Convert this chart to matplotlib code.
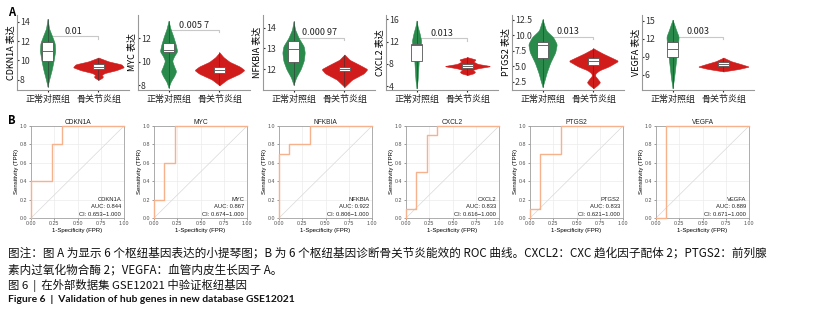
import matplotlib
matplotlib.use("Agg")
import matplotlib.pyplot as plt
import numpy as np
from matplotlib.patches import Rectangle

plt.rcParams['font.family'] = ['Noto Sans CJK SC', 'DejaVu Sans']
plt.rcParams['axes.unicode_minus'] = False

W, H = 815, 317

genes = ['CDKN1A', 'MYC', 'NFKBIA', 'CXCL2', 'PTGS2', 'VEGFA']
groups = ['正常对照组', '骨关节炎组']
p_values = ['0.01', '0.005 7', '0.000 97', '0.013', '0.013', '0.003']

# violin outlines: expression level -> half width
ctrl_y = [
    [7.3, 8.0, 9.0, 10.0, 11.0, 11.8, 12.5, 13.3, 14.3],
    [7.8, 8.3, 8.8, 9.2, 9.6, 10.1, 10.5, 10.9, 11.5, 12.2, 12.8, 13.5],
    [11.25, 11.6, 12.0, 12.4, 12.8, 13.1, 13.5, 13.9, 14.3],
    [3.6, 5.0, 6.5, 8.0, 9.5, 11.0, 12.2, 13.5, 14.8, 15.8],
    [1.7, 2.5, 4.0, 5.6, 7.3, 8.6, 9.7, 10.8, 11.8, 12.6],
    [3.8, 5.5, 7.0, 8.5, 10.0, 11.3, 12.4, 13.5, 14.5, 15.2],
]
ctrl_w = [
    [0, 0.03, 0.08, 0.12, 0.15, 0.14, 0.09, 0.03, 0],
    [0, 0.04, 0.11, 0.15, 0.11, 0.07, 0.11, 0.17, 0.14, 0.09, 0.04, 0],
    [0, 0.05, 0.14, 0.2, 0.22, 0.2, 0.1, 0.03, 0],
    [0, 0.02, 0.03, 0.04, 0.05, 0.08, 0.09, 0.06, 0.02, 0],
    [0, 0.03, 0.08, 0.15, 0.25, 0.28, 0.21, 0.07, 0.03, 0],
    [0, 0.03, 0.05, 0.07, 0.09, 0.11, 0.12, 0.07, 0.03, 0],
]
oa_y = [
    [8.0, 8.2, 8.35, 8.5, 8.7, 9.0, 9.3, 9.6, 9.9, 10.3],
    [8.0, 8.5, 9.0, 9.3, 9.6, 10.0, 10.4, 10.8],
    [11.15, 11.5, 11.8, 12.0, 12.2, 12.45, 12.7],
    [6.0, 6.3, 6.6, 6.9, 7.2, 7.6, 8.0, 8.4, 8.8, 9.2],
    [1.5, 2.0, 2.45, 3.0, 3.5, 3.9, 4.4, 5.0, 5.9, 7.1, 7.9],
    [6.6, 7.0, 7.4, 7.8, 8.3, 8.9],
]
oa_w = [
    [0, 0.07, 0.09, 0.06, 0.12, 0.35, 0.5, 0.45, 0.2, 0],
    [0, 0.15, 0.4, 0.49, 0.4, 0.2, 0.08, 0],
    [0, 0.15, 0.38, 0.45, 0.3, 0.1, 0],
    [0, 0.12, 0.15, 0.1, 0.2, 0.46, 0.2, 0.12, 0.16, 0],
    [0, 0.08, 0.13, 0.08, 0.03, 0.04, 0.12, 0.3, 0.49, 0.18, 0],
    [0, 0.3, 0.5, 0.35, 0.15, 0],
]
# boxes: q1, median, q3
ctrl_box = [(9.9, 10.95, 11.9), (10.85, 11.0, 11.6), (12.35, 12.95, 13.35),
            (8.5, 11.4, 11.6), (6.3, 8.5, 8.9), (9.0, 10.3, 11.5)]
oa_box = [(9.1, 9.3, 9.6), (9.05, 9.3, 9.6), (11.9, 12.0, 12.1),
          (7.3, 7.6, 8.0), (5.3, 5.9, 6.4), (7.5, 7.8, 8.1)]
bracket_y = [12.5, 12.7, 13.5, 12.6, 9.8, 12.4]
ylims = [(6.95, 14.7), (7.6, 14.0), (11.0, 14.6), (3.3, 16.8), (1.2, 13.3), (3.5, 16.0)]
yticks = [[8, 10, 12, 14], [8, 10, 12], [12, 13, 14], [4, 8, 12, 16],
          [2.5, 5.0, 7.5, 10.0, 12.5], [6, 9, 12, 15]]
ytick_fmt = ['{:.0f}', '{:.0f}', '{:.0f}', '{:.0f}', '{:.1f}', '{:.0f}']

# ROC curves
roc_fpr = [
    [0, 0, 0.222, 0.222, 0.333, 0.333, 1.0],
    [0, 0, 0.111, 0.111, 0.222, 0.222, 1.0],
    [0, 0, 0.111, 0.111, 0.333, 0.333, 1.0],
    [0, 0, 0.111, 0.111, 0.222, 0.222, 0.333, 0.333, 1.0],
    [0, 0, 0.111, 0.111, 0.333, 0.333, 1.0],
    [0, 0.111, 0.111, 1.0],
]
roc_tpr = [
    [0, 0.4, 0.4, 0.8, 0.8, 1.0, 1.0],
    [0, 0.2, 0.2, 0.6, 0.6, 1.0, 1.0],
    [0, 0.7, 0.7, 0.8, 0.8, 1.0, 1.0],
    [0, 0.1, 0.1, 0.5, 0.5, 0.9, 0.9, 1.0, 1.0],
    [0, 0.1, 0.1, 0.7, 0.7, 1.0, 1.0],
    [0, 0, 1.0, 1.0],
]
auc = ['0.844', '0.867', '0.922', '0.833', '0.833', '0.889']
ci = ['0.653−1.000', '0.674−1.000', '0.806−1.000', '0.616−1.000', '0.621−1.000', '0.671−1.000']

green = '#2a8a4c'
red = '#d11c1c'


def px_axes(fig, left, top, width, height):
    return fig.add_axes([left / W, 1 - (top + height) / H, width / W, height / H])


def draw_violin(ax, pos, ys, ws, color):
    yy = np.linspace(ys[0], ys[-1], 240)
    ww = np.interp(yy, ys, ws)
    k = np.ones(11) / 11
    ww = np.convolve(np.pad(ww, 5, mode='edge'), k, mode='valid')
    ax.plot([pos, pos], [ys[0], ys[-1]], color='#333333', lw=0.4, zorder=2.5)
    ax.fill_betweenx(yy, pos - ww, pos + ww, facecolor=color, edgecolor=color,
                     lw=0.4, zorder=2)


def draw_box(ax, pos, box):
    q1, med, q3 = box
    ax.add_patch(Rectangle((pos - 0.1, q1), 0.2, q3 - q1, facecolor='white',
                           edgecolor='#555555', lw=0.6, zorder=3))
    ax.plot([pos - 0.1, pos + 0.1], [med, med], color='#666666', lw=0.7, zorder=4)


fig = plt.figure(figsize=(W / 100, H / 100), dpi=100)

# ---- panel A: violins ----
vio_left = [17, 138, 263, 386, 512, 642]
for i, g in enumerate(genes):
    ax = px_axes(fig, vio_left[i], 15, 112, 75)
    draw_violin(ax, 0, ctrl_y[i], ctrl_w[i], green)
    draw_violin(ax, 1, oa_y[i], oa_w[i], red)
    draw_box(ax, 0, ctrl_box[i])
    draw_box(ax, 1, oa_box[i])
    lo, hi = ylims[i]
    by = bracket_y[i]
    tick = (hi - lo) * 0.03
    ax.plot([0, 0, 1, 1], [by - tick, by, by, by - tick], color='#c8c8c8', lw=0.8, zorder=1)
    ax.text(0.5, by + tick * 0.3, p_values[i], ha='center', va='bottom', fontsize=6.5,
            color='#222222', zorder=5)
    ax.set_xlim(-0.6, 1.6)
    ax.set_ylim(lo, hi)
    ax.set_xticks([0, 1])
    ax.set_xticklabels(groups, fontsize=6.5)
    ax.set_yticks(yticks[i])
    ax.set_yticklabels([ytick_fmt[i].format(t) for t in yticks[i]], fontsize=6.3)
    ax.tick_params(axis='y', direction='in', length=1.5, pad=-2, colors='#333333')
    for lbl in ax.get_yticklabels():
        lbl.set_ha('left')
    ax.tick_params(axis='x', length=1.5, pad=2, colors='#222222')
    for s in ['top', 'right']:
        ax.spines[s].set_visible(False)
    for s in ['left', 'bottom']:
        ax.spines[s].set_color('#999999')
        ax.spines[s].set_linewidth(0.8)
    ax.set_ylabel(g + ' 表达', fontsize=6.5)
    ax.yaxis.set_label_coords(-0.02, 0.5)

fig.text(8 / W, 1 - 12 / H, 'A', fontsize=8, fontweight='bold', va='center', ha='left')
fig.text(8 / W, 1 - 120 / H, 'B', fontsize=8, fontweight='bold', va='center', ha='left')

# ---- panel B: ROC curves ----
roc_left = [31, 154, 279, 406, 530, 656]
roc_font = 'Liberation Sans'
for i, g in enumerate(genes):
    ax = px_axes(fig, roc_left[i], 126, 93, 92)
    ax.plot([0, 1], [0, 1], color='#d9d9d9', lw=0.5, zorder=1)
    ax.plot(roc_fpr[i], roc_tpr[i], color='#f5b28c', lw=1.0, clip_on=False, zorder=3)
    ax.set_xlim(0, 1)
    ax.set_ylim(0, 1)
    ax.set_xticks([0, 0.25, 0.5, 0.75, 1.0])
    ax.set_xticklabels(['0.00', '0.25', '0.50', '0.75', '1.00'], fontsize=3.8, family=roc_font)
    ax.set_yticks([0, 0.2, 0.4, 0.6, 0.8, 1.0])
    ax.set_yticklabels(['0.0', '0.2', '0.4', '0.6', '0.8', '1.0'], fontsize=3.8, family=roc_font)
    ax.tick_params(length=1.5, width=0.4, pad=1, colors='#4d4d4d')
    ax.grid(True, color='#ebebeb', lw=0.5)
    ax.set_axisbelow(True)
    for s in ax.spines.values():
        s.set_color('#a0a0a0')
        s.set_linewidth(0.6)
    ax.set_title(g, fontsize=4.8, family=roc_font, pad=1.5, color='#222222')
    ax.set_xlabel('1-Specificity (FPR)', fontsize=4.3, family=roc_font, labelpad=1)
    ax.set_ylabel('Sensitivity (TPR)', fontsize=4.3, family=roc_font, labelpad=1)
    ax.text(0.97, 0.2, g, transform=ax.transAxes, ha='right', va='center',
            fontsize=4.2, family=roc_font, color='#222222')
    ax.text(0.97, 0.12, 'AUC: ' + auc[i], transform=ax.transAxes, ha='right', va='center',
            fontsize=4.2, family=roc_font, color='#222222')
    ax.text(0.97, 0.04, 'CI: ' + ci[i], transform=ax.transAxes, ha='right', va='center',
            fontsize=4.2, family=roc_font, color='#222222')

# ---- captions ----
cap1 = ('图注：图 A 为显示 6 个枢纽基因表达的小提琴图；B 为 6 个枢纽基因诊断骨关节炎能效的 ROC 曲线。'
        'CXCL2：CXC 趋化因子配体 2；PTGS2：前列腺')
cap2 = '素内过氧化物合酶 2；VEGFA：血管内皮生长因子 A。'
cap3 = '图 6  |  在外部数据集 GSE12021 中验证枢纽基因'
cap4 = 'Figure 6  |  Validation of hub genes in new database GSE12021'
fig.text(8 / W, 1 - 253 / H, cap1, fontsize=8.35, va='center', ha='left', color='#111111')
fig.text(8 / W, 1 - 270 / H, cap2, fontsize=8.35, va='center', ha='left', color='#111111')
fig.text(8 / W, 1 - 285 / H, cap3, fontsize=8.2, va='center', ha='left', color='#111111')
fig.text(8 / W, 1 - 300 / H, cap4, fontsize=7.4, va='center', ha='left', fontweight='bold',
         family=['Lato', 'DejaVu Sans'], color='#111111')

fig.savefig('out.png', dpi=100)
